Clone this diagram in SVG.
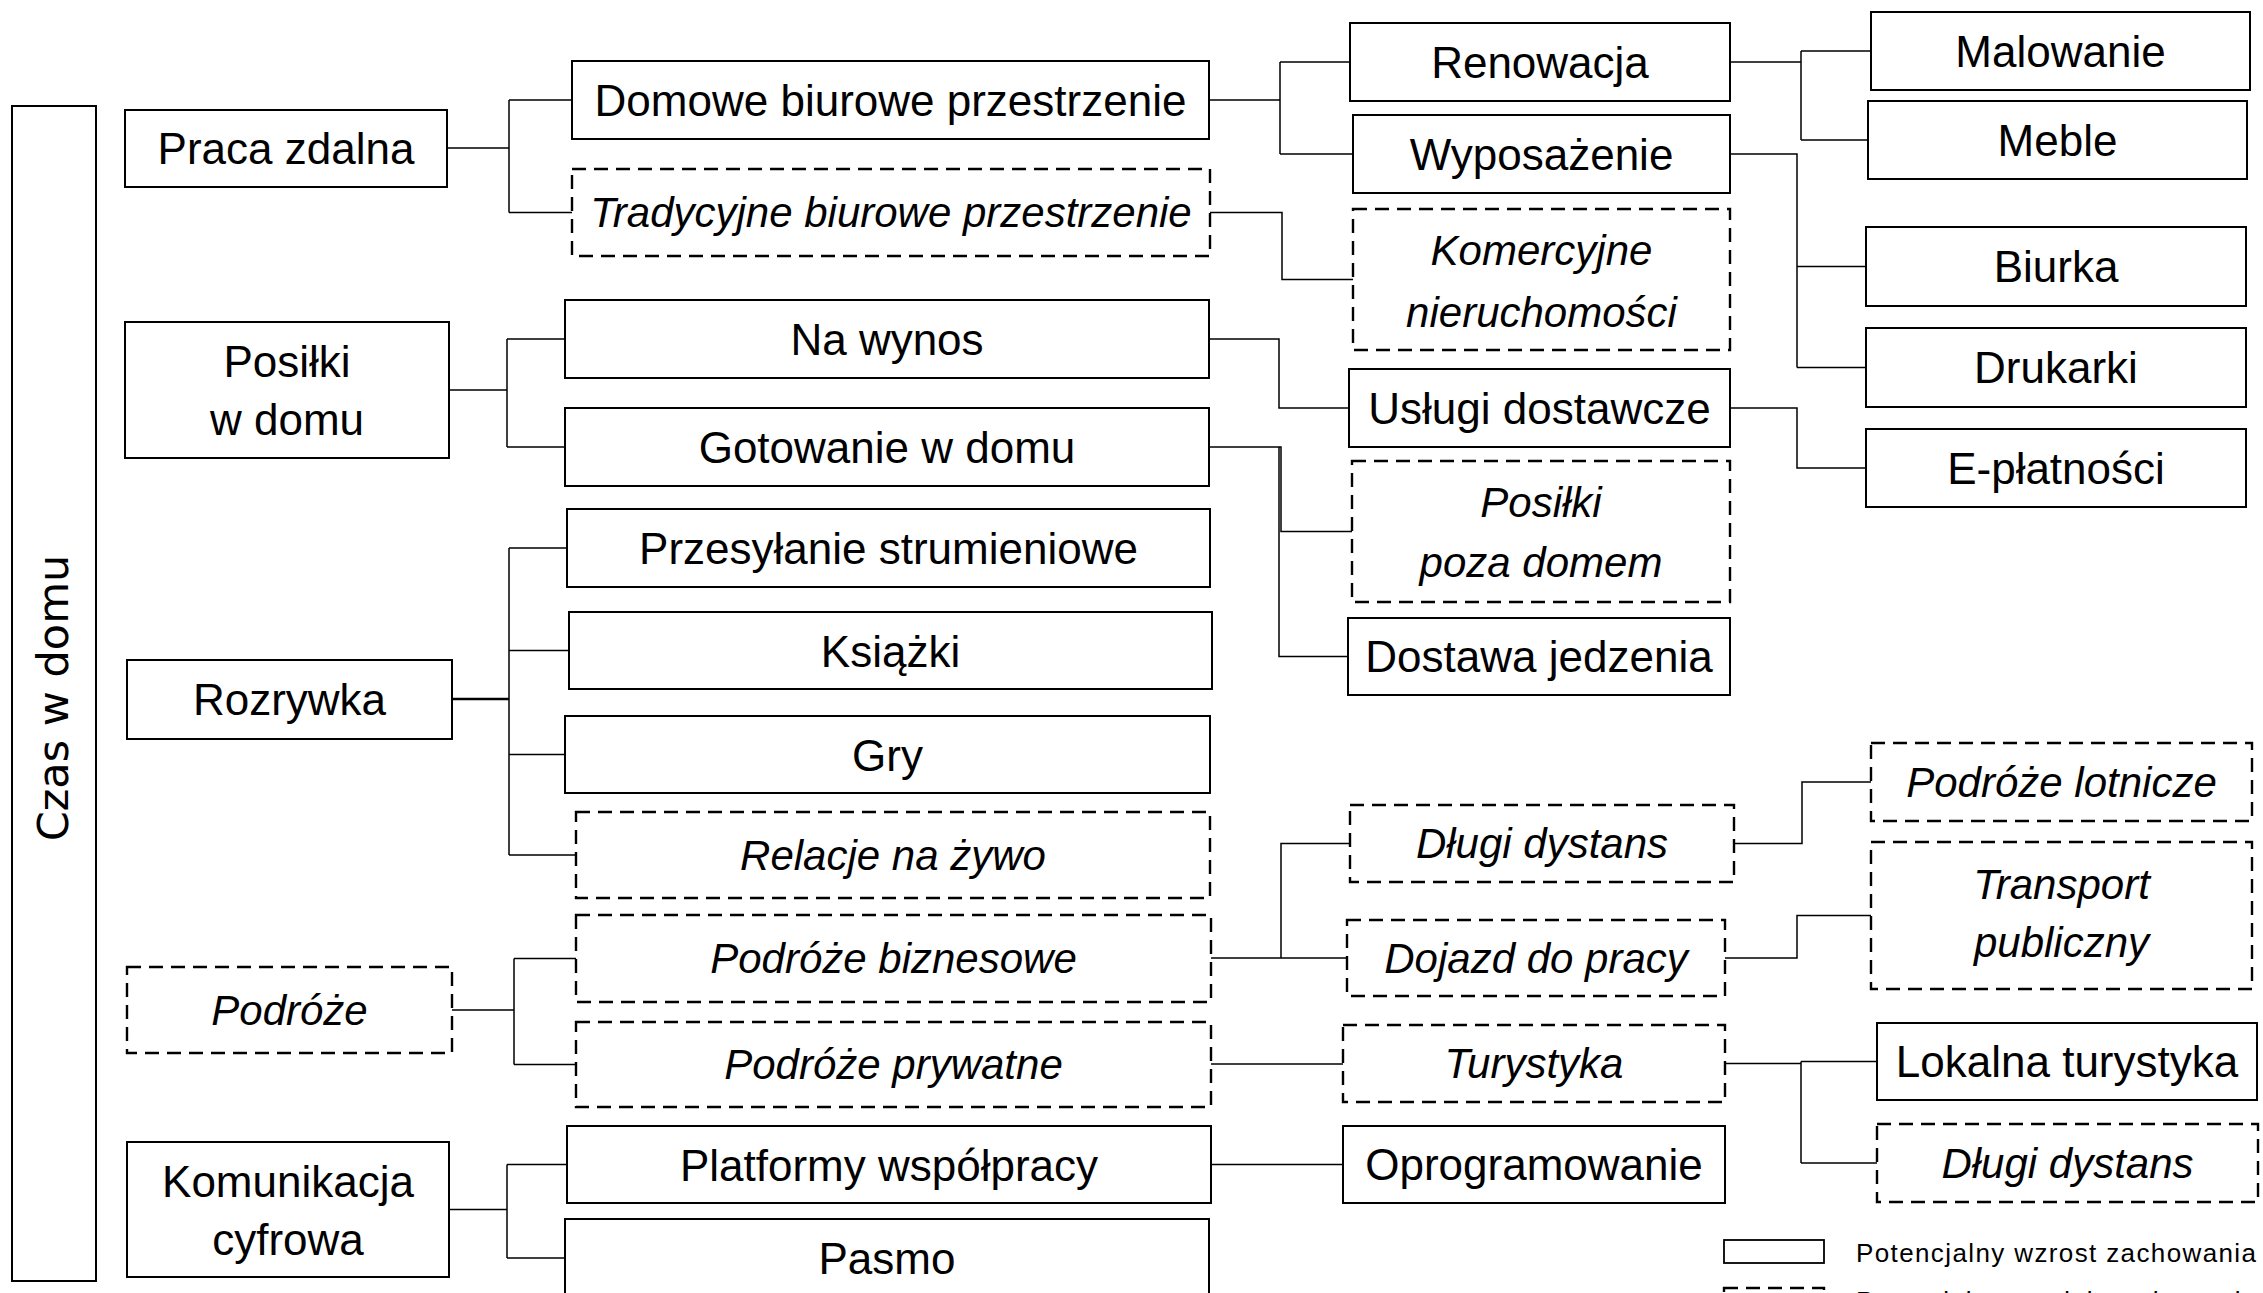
<svg xmlns="http://www.w3.org/2000/svg" width="2263" height="1293" viewBox="0 0 2263 1293">
<style>
.b{fill:#fff;stroke:#000;stroke-width:2}
.d{stroke-dasharray:14 8;stroke-width:2.4}
.t{font-family:"Liberation Sans",Arial,sans-serif;font-size:44px;text-anchor:middle;fill:#000}
.i{font-style:italic;font-size:42px}
.c{fill:none;stroke:#000;stroke-width:1.5}
.lg{font-family:"Liberation Sans",Arial,sans-serif;font-size:26px;fill:#000}
</style>
<rect width="2263" height="1293" fill="#fff"/>
<g id="connectors">
<path class="c" d="M447,148H509M509,100V212.5M509,100H572M509,212.5H572"/>
<path class="c" d="M449,390H507M507,339V447M507,339H565M507,447H565"/>
<path class="c" d="M452,699H509" style="stroke-width:2.6"/>
<path class="c" d="M509,548V855M509,548H567M509,650.5H569M509,754.5H565M509,855H576"/>
<path class="c" d="M452,1010H514M514,958.5V1064.5M514,958.5H576M514,1064.5H576"/>
<path class="c" d="M449,1209.5H507M507,1164.5V1258M507,1164.5H567M507,1258H565"/>
<path class="c" d="M1209,100H1280M1280,62V154M1280,62H1350M1280,154H1353"/>
<path class="c" d="M1210,212.5H1282V279.5H1353"/>
<path class="c" d="M1209,339H1279V408H1349"/>
<path class="c" d="M1209,447H1281V531.5H1352M1279,447V656.5H1348"/>
<path class="c" d="M1211,958H1347M1281,958V843.5H1350"/>
<path class="c" d="M1211,1064H1343"/>
<path class="c" d="M1211,1164.5H1343"/>
<path class="c" d="M1730,62H1801M1801,51V140M1801,51H1871M1801,140H1868"/>
<path class="c" d="M1730,154H1797V367.5M1797,266.5H1866M1797,367.5H1866"/>
<path class="c" d="M1730,408H1797V468H1866"/>
<path class="c" d="M1734,843.5H1802V782H1871"/>
<path class="c" d="M1725,958H1797V915.5H1871"/>
<path class="c" d="M1725,1063.5H1801M1801,1061.5V1163M1801,1061.5H1877M1801,1163H1877"/>
</g>
<g id="czas"><rect class="b" x="12" y="106" width="84" height="1175"/><text transform="translate(68,698) rotate(-90)" style="font-family:'DejaVu Sans',Verdana,sans-serif;font-size:43px;text-anchor:middle">Czas w domu</text></g>
<g id="praca"><rect class="b" x="125" y="110" width="322" height="77"/><text class="t" x="286" y="164">Praca zdalna</text></g>
<g id="posilki"><rect class="b" x="125" y="322" width="324" height="136"/><text class="t" x="287" y="377">Posiłki</text><text class="t" x="287" y="435">w domu</text></g>
<g id="rozrywka"><rect class="b" x="127" y="660" width="325" height="79"/><text class="t" x="289.5" y="715">Rozrywka</text></g>
<g id="podroze"><rect class="b d" x="127" y="967" width="325" height="86"/><text class="t i" x="289.5" y="1025">Podróże</text></g>
<g id="komunikacja"><rect class="b" x="127" y="1142" width="322" height="135"/><text class="t" x="288" y="1197">Komunikacja</text><text class="t" x="288" y="1255">cyfrowa</text></g>
<g id="domowe"><rect class="b" x="572" y="61" width="637" height="78"/><text class="t" x="890.5" y="116">Domowe biurowe przestrzenie</text></g>
<g id="tradycyjne"><rect class="b d" x="572" y="169" width="638" height="87"/><text class="t i" x="891" y="227">Tradycyjne biurowe przestrzenie</text></g>
<g id="nawynos"><rect class="b" x="565" y="300" width="644" height="78"/><text class="t" x="887" y="355">Na wynos</text></g>
<g id="gotowanie"><rect class="b" x="565" y="408" width="644" height="78"/><text class="t" x="887" y="463">Gotowanie w domu</text></g>
<g id="przesylanie"><rect class="b" x="567" y="509" width="643" height="78"/><text class="t" x="888.5" y="564">Przesyłanie strumieniowe</text></g>
<g id="ksiazki"><rect class="b" x="569" y="612" width="643" height="77"/><text class="t" x="890.5" y="667">Książki</text></g>
<g id="gry"><rect class="b" x="565" y="716" width="645" height="77"/><text class="t" x="887.5" y="771">Gry</text></g>
<g id="relacje"><rect class="b d" x="576" y="812" width="634" height="86"/><text class="t i" x="893" y="870">Relacje na żywo</text></g>
<g id="biznesowe"><rect class="b d" x="576" y="915" width="635" height="87"/><text class="t i" x="893.5" y="973">Podróże biznesowe</text></g>
<g id="prywatne"><rect class="b d" x="576" y="1022" width="635" height="85"/><text class="t i" x="893.5" y="1079">Podróże prywatne</text></g>
<g id="platformy"><rect class="b" x="567" y="1126" width="644" height="77"/><text class="t" x="889" y="1181">Platformy współpracy</text></g>
<g id="pasmo"><rect class="b" x="565" y="1219" width="644" height="78"/><text class="t" x="887" y="1274">Pasmo</text></g>
<g id="renowacja"><rect class="b" x="1350" y="23" width="380" height="78"/><text class="t" x="1540" y="78">Renowacja</text></g>
<g id="wyposazenie"><rect class="b" x="1353" y="115" width="377" height="78"/><text class="t" x="1541.5" y="170">Wyposażenie</text></g>
<g id="komercyjne"><rect class="b d" x="1353" y="209" width="377" height="141"/><text class="t i" x="1541.5" y="265">Komercyjne</text><text class="t i" x="1541.5" y="327">nieruchomości</text></g>
<g id="uslugi"><rect class="b" x="1349" y="369" width="381" height="78"/><text class="t" x="1539.5" y="424">Usługi dostawcze</text></g>
<g id="posilkipoza"><rect class="b d" x="1352" y="461" width="378" height="141"/><text class="t i" x="1541" y="517">Posiłki</text><text class="t i" x="1541" y="577">poza domem</text></g>
<g id="dostawa"><rect class="b" x="1348" y="618" width="382" height="77"/><text class="t" x="1539" y="672">Dostawa jedzenia</text></g>
<g id="dlugi1"><rect class="b d" x="1350" y="805" width="384" height="77"/><text class="t i" x="1542" y="858">Długi dystans</text></g>
<g id="dojazd"><rect class="b d" x="1347" y="920" width="378" height="76"/><text class="t i" x="1536" y="973">Dojazd do pracy</text></g>
<g id="turystyka"><rect class="b d" x="1343" y="1025" width="382" height="77"/><text class="t i" x="1534" y="1078">Turystyka</text></g>
<g id="oprogramowanie"><rect class="b" x="1343" y="1126" width="382" height="77"/><text class="t" x="1534" y="1180">Oprogramowanie</text></g>
<g id="malowanie"><rect class="b" x="1871" y="12" width="379" height="78"/><text class="t" x="2060.5" y="67">Malowanie</text></g>
<g id="meble"><rect class="b" x="1868" y="101" width="379" height="78"/><text class="t" x="2057.5" y="156">Meble</text></g>
<g id="biurka"><rect class="b" x="1866" y="227" width="380" height="79"/><text class="t" x="2056" y="282">Biurka</text></g>
<g id="drukarki"><rect class="b" x="1866" y="328" width="380" height="79"/><text class="t" x="2056" y="383">Drukarki</text></g>
<g id="eplatnosci"><rect class="b" x="1866" y="429" width="380" height="78"/><text class="t" x="2056" y="484">E-płatności</text></g>
<g id="lotnicze"><rect class="b d" x="1871" y="743" width="381" height="78"/><text class="t i" x="2061.5" y="797">Podróże lotnicze</text></g>
<g id="transport"><rect class="b d" x="1871" y="842" width="381" height="147"/><text class="t i" x="2061.5" y="899">Transport</text><text class="t i" x="2061.5" y="957">publiczny</text></g>
<g id="lokalna"><rect class="b" x="1877" y="1023" width="380" height="77"/><text class="t" x="2067" y="1077">Lokalna turystyka</text></g>
<g id="dlugi2"><rect class="b d" x="1877" y="1124" width="381" height="78"/><text class="t i" x="2067.5" y="1178">Długi dystans</text></g>
<g id="legend">
<rect class="b" x="1724" y="1240" width="100" height="23" style="stroke-width:1.8"/>
<text class="lg" x="1856" y="1262" textLength="400" lengthAdjust="spacing">Potencjalny wzrost zachowania</text>
<rect class="b d" x="1724" y="1288" width="100" height="23"/>
<text class="lg" x="1856" y="1310" textLength="400" lengthAdjust="spacing">Potencjalny spadek zachowania</text>
</g>
</svg>
